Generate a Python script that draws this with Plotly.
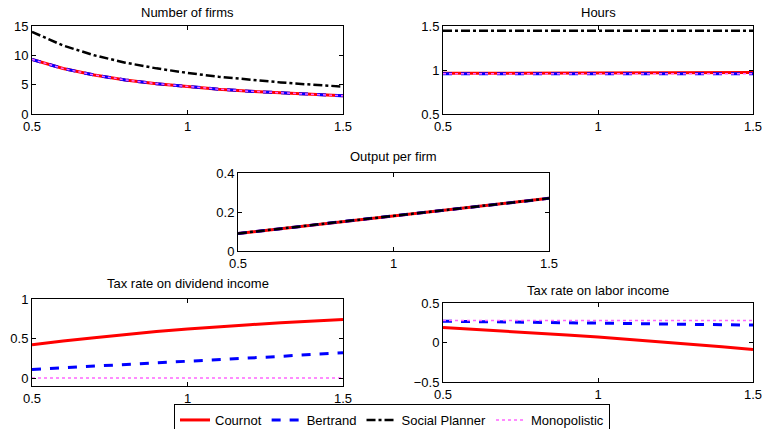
import plotly.graph_objects as go

x = [0.5, 0.6, 0.7, 0.8, 0.9, 1.0, 1.1, 1.2, 1.3, 1.4, 1.5]

# Number of firms
firms_cournot = [9.3, 7.75, 6.64, 5.81, 5.17, 4.65, 4.23, 3.88, 3.58, 3.32, 3.1]
firms_bertrand = [9.3, 7.75, 6.64, 5.81, 5.17, 4.65, 4.23, 3.88, 3.58, 3.32, 3.1]
firms_planner = [14.0, 11.67, 10.0, 8.75, 7.78, 7.0, 6.36, 5.83, 5.38, 5.0, 4.67]
firms_monop = [9.3, 7.75, 6.64, 5.81, 5.17, 4.65, 4.23, 3.88, 3.58, 3.32, 3.1]

# Hours
hours_cournot = [0.962, 0.963, 0.964, 0.965, 0.966, 0.967, 0.968, 0.969, 0.970, 0.971, 0.972]
hours_bertrand = [0.958, 0.958, 0.958, 0.958, 0.958, 0.958, 0.958, 0.958, 0.958, 0.958, 0.958]
hours_planner = [1.445, 1.445, 1.445, 1.445, 1.445, 1.445, 1.445, 1.445, 1.445, 1.445, 1.445]
hours_monop = [0.958, 0.958, 0.958, 0.958, 0.958, 0.958, 0.958, 0.958, 0.958, 0.958, 0.958]

# Output per firm
out_cournot = [0.09, 0.108, 0.126, 0.144, 0.162, 0.18, 0.198, 0.216, 0.234, 0.252, 0.27]
out_bertrand = [0.09, 0.108, 0.126, 0.144, 0.162, 0.18, 0.198, 0.216, 0.234, 0.252, 0.27]
out_planner = [0.09, 0.108, 0.126, 0.144, 0.162, 0.18, 0.198, 0.216, 0.234, 0.252, 0.27]
out_monop = [0.09, 0.108, 0.126, 0.144, 0.162, 0.18, 0.198, 0.216, 0.234, 0.252, 0.27]

# Tax rate on dividend income
div_cournot = [0.42, 0.47, 0.51, 0.55, 0.59, 0.62, 0.65, 0.675, 0.70, 0.72, 0.74]
div_bertrand = [0.11, 0.13, 0.15, 0.17, 0.19, 0.21, 0.23, 0.25, 0.275, 0.30, 0.32]
div_monop = [0.0, 0.0, 0.0, 0.0, 0.0, 0.0, 0.0, 0.0, 0.0, 0.0, 0.0]

# Tax rate on labor income
lab_cournot = [0.19, 0.168, 0.145, 0.12, 0.095, 0.07, 0.04, 0.01, -0.02, -0.055, -0.09]
lab_bertrand = [0.27, 0.265, 0.26, 0.255, 0.25, 0.245, 0.24, 0.235, 0.23, 0.225, 0.22]
lab_monop = [0.28, 0.28, 0.28, 0.28, 0.28, 0.28, 0.28, 0.28, 0.28, 0.28, 0.28]

titles = ["Number of firms", "Hours", "Output per firm",
          "Tax rate on dividend income", "Tax rate on labor income"]

W, H = 763, 429


def px(v):
    return v / W


def py(v):
    return 1 - v / H


# pixel boxes in the window (left, right, top, bottom)
boxes = [(32, 343, 26, 114), (443, 753, 26, 114), (238, 549, 173, 251),
         (32, 343, 299, 386), (443, 753, 303, 382)]
title_y = [13, 13, 157, 283, 290]
yranges = [[0, 15], [0.5, 1.5], [0, 0.4], [-0.1, 1], [-0.5, 0.5]]
ytickvals = [[0, 5, 10, 15], [0.5, 1, 1.5], [0, 0.2, 0.4], [0, 0.5, 1], [-0.5, 0, 0.5]]

styles = {
    "Cournot": dict(color="#ff0000", width=3, dash="solid"),
    "Bertrand": dict(color="#0000ff", width=3, dash="dash"),
    "Social Planner": dict(color="#000000", width=2.5, dash="dashdot"),
    "Monopolistic": dict(color="#ff66ff", width=1.5, dash="dot"),
}

series = [
    [("Cournot", firms_cournot), ("Bertrand", firms_bertrand), ("Social Planner", firms_planner), ("Monopolistic", firms_monop)],
    [("Cournot", hours_cournot), ("Bertrand", hours_bertrand), ("Social Planner", hours_planner), ("Monopolistic", hours_monop)],
    [("Cournot", out_cournot), ("Bertrand", out_bertrand), ("Monopolistic", out_monop), ("Social Planner", out_planner)],
    [("Cournot", div_cournot), ("Bertrand", div_bertrand), ("Monopolistic", div_monop)],
    [("Cournot", lab_cournot), ("Bertrand", lab_bertrand), ("Monopolistic", lab_monop)],
]

fig = go.Figure()
FAM = "Liberation Sans, Arial, sans-serif"
font = dict(family=FAM, size=13, color="#000000")
shown = set()
for i, (box, ser) in enumerate(zip(boxes, series)):
    n = "" if i == 0 else str(i + 1)
    l, r, t, b = box
    for name, vals in ser:
        fig.add_trace(go.Scatter(
            x=x, y=vals, mode="lines", name=name, line=styles[name],
            legendgroup=name, showlegend=(name not in shown),
            xaxis="x" + n, yaxis="y" + n,
            legendrank={"Cournot": 1, "Bertrand": 2, "Social Planner": 3, "Monopolistic": 4}[name],
        ))
        shown.add(name)
    axcommon = dict(showgrid=False, zeroline=False, showline=True, linecolor="#000000",
                    linewidth=1, mirror="ticks", ticks="inside", ticklen=4,
                    tickcolor="#000000", tickfont=font, ticklabeloverflow="allow",
                    automargin=False)
    fig.layout["xaxis" + n] = dict(domain=[px(l), px(r)], anchor="y" + n,
                                   range=[0.5, 1.5], tickvals=[0.5, 1, 1.5],
                                   ticktext=["0.5", "1", "1.5"], **axcommon)
    fig.layout["yaxis" + n] = dict(domain=[py(b), py(t)], anchor="x" + n,
                                   range=yranges[i], tickvals=ytickvals[i], **axcommon)
    fig.add_annotation(text=titles[i], x=px((l + r) / 2), y=py(title_y[i]),
                       xref="paper", yref="paper", showarrow=False,
                       xanchor="center", yanchor="middle",
                       font=dict(family=FAM, size=13, color="#000000"))

fig.update_layout(
    width=W, height=H,
    margin=dict(l=0, r=0, t=0, b=0, autoexpand=False),
    paper_bgcolor="white", plot_bgcolor="white",
    legend=dict(orientation="h", x=px(392), xanchor="center", y=py(404), yanchor="top",
                bordercolor="#000000", borderwidth=1, bgcolor="white",
                font=font, itemwidth=30, tracegroupgap=0, traceorder="normal"),
    showlegend=True,
)

fig.write_html("out.html",
               config={"displayModeBar": False},
               post_script="document.body.style.margin='0';document.body.style.overflow='hidden';")
